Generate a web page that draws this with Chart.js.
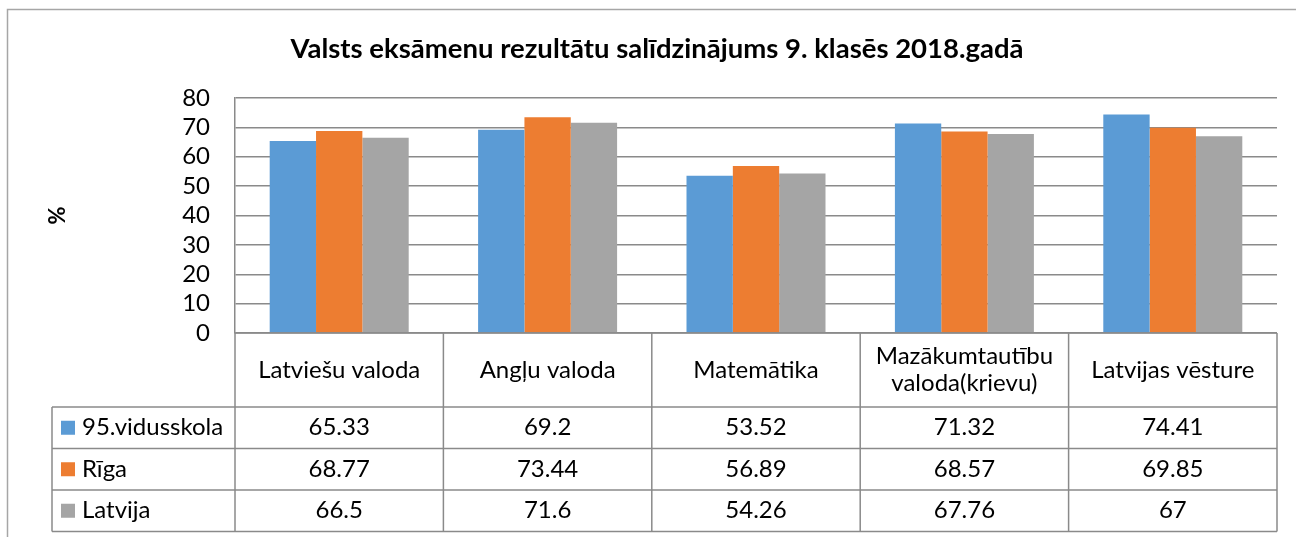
<!DOCTYPE html>
<html>
<head>
<meta charset="utf-8">
<script src="https://cdn.jsdelivr.net/npm/chart.js@4/dist/chart.umd.min.js"></script>
<style>
    html, body { margin: 0; padding: 0; background: #fff; }
    #wrap { width: 1296px; height: 537px; }
</style>
</head>
<body>
<div id="wrap"><canvas id="chart"></canvas></div>
<script>
// Dati
const categories = ['Latviešu valoda', 'Angļu valoda', 'Matemātika', ['Mazākumtautību', 'valoda(krievu)'], 'Latvijas vēsture'];
const seriesNames = ['95.vidusskola', 'Rīga', 'Latvija'];
const school = [65.33, 69.2, 53.52, 71.32, 74.41];
const riga = [68.77, 73.44, 56.89, 68.57, 69.85];
const latvia = [66.5, 71.6, 54.26, 67.76, 67];
const yTicks = [0, 10, 20, 30, 40, 50, 60, 70, 80];

const colors = ['#5B9BD5', '#ED7D31', '#A5A5A5'];
const lineColor = '#8a8a8a';
const fontFamily = 'Lato, "Liberation Sans", sans-serif';

// Outer frame like the Excel chart area
const framePlugin = {
    id: 'frame',
    beforeDraw(chart) {
        const ctx = chart.ctx;
        ctx.save();
        ctx.fillStyle = '#fff';
        ctx.fillRect(0, 0, chart.width, chart.height);
        ctx.strokeStyle = '#a6a6a6';
        ctx.lineWidth = 1.5;
        ctx.beginPath();
        ctx.moveTo(7.5, chart.height);
        ctx.lineTo(7.5, 9.5);
        ctx.lineTo(chart.width, 9.5);
        ctx.stroke();
        ctx.restore();
    }
};

// Data table under the plot, columns follow the x scale
const tablePlugin = {
    id: 'dataTable',
    afterDraw(chart) {
        const ctx = chart.ctx;
        const x = chart.scales.x;
        const top = chart.chartArea.bottom;
        const colW = (x.right - x.left) / categories.length;
        const headerH = 74;
        const rowH = 41.5;
        const legendLeft = 52;
        const bottom = top + headerH + rowH * seriesNames.length;

        ctx.save();
        ctx.strokeStyle = lineColor;
        ctx.lineWidth = 1.5;

        // horizontal lines
        ctx.beginPath();
        ctx.moveTo(x.left, top);
        ctx.lineTo(x.right, top);
        for (let r = 0; r <= seriesNames.length; r++) {
            const y = top + headerH + r * rowH;
            ctx.moveTo(legendLeft, y);
            ctx.lineTo(x.right, y);
        }
        // vertical lines
        for (let c = 0; c <= categories.length; c++) {
            const xx = x.left + c * colW;
            ctx.moveTo(xx, top);
            ctx.lineTo(xx, bottom);
        }
        ctx.moveTo(legendLeft, top + headerH);
        ctx.lineTo(legendLeft, bottom);
        ctx.stroke();

        ctx.fillStyle = '#000';
        ctx.font = '24px ' + fontFamily;
        ctx.textBaseline = 'middle';
        ctx.textAlign = 'center';

        // header (category names)
        categories.forEach((cat, i) => {
            const cx = x.getPixelForValue(i);
            const lines = Array.isArray(cat) ? cat : [cat];
            const lh = 27;
            const y0 = top + headerH / 2 - (lines.length - 1) * lh / 2;
            lines.forEach((ln, k) => ctx.fillText(ln, cx, y0 + k * lh));
        });

        // rows
        const allData = [school, riga, latvia];
        seriesNames.forEach((name, r) => {
            const cy = top + headerH + r * rowH + rowH / 2;
            ctx.fillStyle = colors[r];
            ctx.fillRect(61, cy - 7, 14, 14);
            ctx.fillStyle = '#000';
            ctx.textAlign = 'left';
            ctx.fillText(name, 82, cy);
            ctx.textAlign = 'center';
            allData[r].forEach((v, i) => {
                ctx.fillText(String(v), x.getPixelForValue(i), cy);
            });
        });
        ctx.restore();
    }
};

new Chart(document.getElementById('chart'), {
    type: 'bar',
    data: {
        labels: categories,
        datasets: [
            { label: seriesNames[0], data: school, backgroundColor: colors[0] },
            { label: seriesNames[1], data: riga, backgroundColor: colors[1] },
            { label: seriesNames[2], data: latvia, backgroundColor: colors[2] }
        ]
    },
    options: {
        responsive: true,
        maintainAspectRatio: false,
        animation: false,
        datasets: {
            bar: { categoryPercentage: 0.667, barPercentage: 1.0 }
        },
        layout: {
            padding: { top: 9, right: 19, bottom: 204, left: 37 }
        },
        plugins: {
            legend: { display: false },
            tooltip: { enabled: false },
            title: {
                display: true,
                text: 'Valsts eksāmenu rezultātu salīdzinājums 9. klasēs 2018.gadā',
                color: '#000',
                font: { family: fontFamily, size: 27.5, weight: 'bold' },
                padding: { top: 24, bottom: 32 }
            }
        },
        scales: {
            x: {
                display: false
            },
            y: {
                min: yTicks[0],
                max: yTicks[yTicks.length - 1],
                afterBuildTicks: (scale) => {
                    scale.ticks = yTicks.map(v => ({ value: v }));
                },
                afterFit: (scale) => {
                    scale.width = 198;
                },
                grid: {
                    color: lineColor,
                    lineWidth: 1.5,
                    drawTicks: false
                },
                border: { display: true, color: lineColor, width: 1.5 },
                ticks: {
                    color: '#000',
                    padding: 25,
                    autoSkip: false,
                    font: { family: fontFamily, size: 24 }
                },
                title: {
                    display: true,
                    text: '%',
                    color: '#000',
                    font: { family: fontFamily, size: 22, weight: 'bold' },
                    padding: { top: 8, bottom: 0 }
                }
            }
        }
    },
    plugins: [framePlugin, tablePlugin]
});
</script>
</body>
</html>
